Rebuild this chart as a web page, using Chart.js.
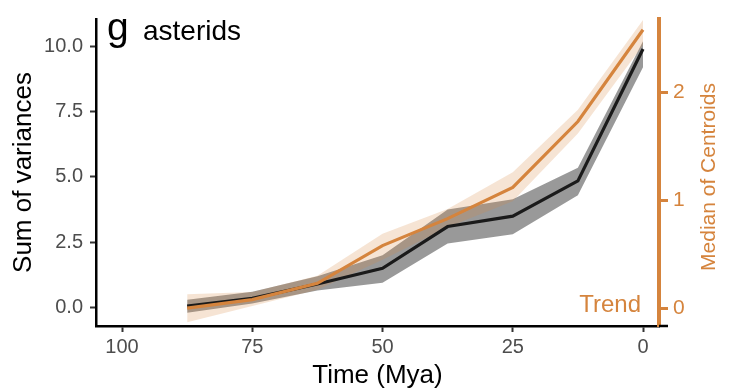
<!DOCTYPE html>
<html>
<head>
<meta charset="utf-8">
<script src="https://cdn.jsdelivr.net/npm/chart.js@4.4.1/dist/chart.umd.min.js"></script>
<style>
  html, body { margin: 0; padding: 0; background: #fff; }
  canvas { display: block; }
</style>
</head>
<body>
<canvas id="chart" width="734" height="392"></canvas>
<script>
// time bins (Mya) and the two summary series with their ribbons
const times = [87.5, 75, 62.5, 50, 37.5, 25, 12.5, 0];

const sumVar   = [0.05, 0.35, 0.9, 1.5, 3.1, 3.5, 4.85, 9.9];
const sumVarHi = [0.3, 0.6, 1.2, 2.0, 3.75, 4.15, 5.35, 10.2];
const sumVarLo = [-0.2, 0.15, 0.65, 0.95, 2.45, 2.8, 4.3, 9.2];

const median   = [0.0, 0.08, 0.23, 0.58, 0.83, 1.12, 1.73, 2.58];
const medianHi = [0.13, 0.15, 0.3, 0.69, 0.92, 1.26, 1.84, 2.67];
const medianLo = [-0.13, 0.02, 0.17, 0.45, 0.75, 0.99, 1.62, 2.44];

const xTicks = [100, 75, 50, 25, 0];
const yTicks = [0, 2.5, 5, 7.5, 10];
const y1Ticks = [0, 1, 2];

const ORANGE = "#d5843d";
const FONT = "'Liberation Sans', Arial, sans-serif";

function pts(values) {
  return times.map((t, i) => ({ x: t, y: values[i] }));
}

function fixTicks(list) {
  return scale => { scale.ticks = list.map(v => ({ value: v })); };
}

// panel letter, group name, "Trend" key, right axis title
const panelText = {
  id: "panelText",
  afterDraw(chart) {
    const { ctx, chartArea, scales } = chart;
    ctx.save();
    ctx.textBaseline = "alphabetic";
    ctx.fillStyle = "#000";
    ctx.textAlign = "left";
    ctx.font = "39px " + FONT;
    ctx.fillText("g", 107, 40);
    ctx.font = "28px " + FONT;
    ctx.fillText("asterids", 143, 40);

    ctx.fillStyle = ORANGE;
    ctx.textAlign = "right";
    ctx.font = "24px " + FONT;
    ctx.fillText("Trend", 641, 312);

    ctx.translate(709, 177);
    ctx.rotate(-Math.PI / 2);
    ctx.textAlign = "center";
    ctx.textBaseline = "middle";
    ctx.font = "21px " + FONT;
    ctx.fillText("Median of Centroids", 0, 0);
    ctx.restore();

    // bottom axis line runs a little past the right axis
    ctx.save();
    ctx.strokeStyle = "#000";
    ctx.lineWidth = 2.5;
    ctx.beginPath();
    ctx.moveTo(chartArea.right, scales.x.top);
    ctx.lineTo(chartArea.right + 9, scales.x.top);
    ctx.stroke();
    ctx.restore();
  }
};

new Chart(document.getElementById("chart"), {
  type: "line",
  data: {
    datasets: [
      {
        data: pts(median), yAxisID: "y1",
        borderColor: ORANGE, borderWidth: 3.2, pointRadius: 0, fill: false
      },
      {
        data: pts(sumVar), yAxisID: "y",
        borderColor: "#1a1a1a", borderWidth: 3.2, pointRadius: 0, fill: false
      },
      {
        data: pts(medianHi), yAxisID: "y1",
        borderWidth: 0, pointRadius: 0, fill: "+1",
        backgroundColor: "rgba(213,132,61,0.22)"
      },
      {
        data: pts(medianLo), yAxisID: "y1",
        borderWidth: 0, pointRadius: 0, fill: false
      },
      {
        data: pts(sumVarHi), yAxisID: "y",
        borderWidth: 0, pointRadius: 0, fill: "+1",
        backgroundColor: "rgba(0,0,0,0.4)"
      },
      {
        data: pts(sumVarLo), yAxisID: "y",
        borderWidth: 0, pointRadius: 0, fill: false
      }
    ]
  },
  options: {
    responsive: false,
    animation: false,
    devicePixelRatio: 1,
    layout: { padding: { top: 13, left: 0, right: 0, bottom: 0 } },
    plugins: { legend: { display: false }, tooltip: { enabled: false } },
    scales: {
      x: {
        type: "linear", reverse: true, min: -3.07, max: 105,
        afterBuildTicks: fixTicks(xTicks),
        afterFit: s => { s.height = 66; },
        grid: { drawOnChartArea: false, tickLength: 6, tickColor: "#333", tickWidth: 2 },
        border: { color: "#000", width: 2.5 },
        ticks: { color: "#4d4d4d", font: { family: FONT, size: 20 }, padding: 3, maxRotation: 0 },
        title: {
          display: true, text: "Time (Mya)", color: "#000",
          font: { family: FONT, size: 26 }, padding: { top: 0, bottom: 1 }
        }
      },
      y: {
        position: "left", min: -0.71, max: 11.05,
        afterBuildTicks: fixTicks(yTicks),
        afterFit: s => { s.width = 96; },
        grid: { drawOnChartArea: false, tickLength: 6, tickColor: "#333", tickWidth: 2 },
        border: { color: "#000", width: 2.5 },
        ticks: {
          color: "#4d4d4d", font: { family: FONT, size: 20 }, padding: 7,
          callback: v => v.toFixed(1)
        },
        title: {
          display: true, text: "Sum of variances", color: "#000",
          font: { family: FONT, size: 26 }, padding: { top: 8, bottom: 0 }
        }
      },
      y1: {
        position: "right", min: -0.165, max: 2.68,
        afterBuildTicks: fixTicks(y1Ticks),
        afterFit: s => { s.width = 75; },
        grid: { drawOnChartArea: false, tickLength: 9, tickColor: ORANGE, tickWidth: 3 },
        border: { color: ORANGE, width: 4 },
        ticks: {
          color: ORANGE, font: { family: FONT, size: 21 }, padding: 5,
          callback: v => String(v)
        }
      }
    }
  },
  plugins: [panelText]
});
</script>
</body>
</html>
